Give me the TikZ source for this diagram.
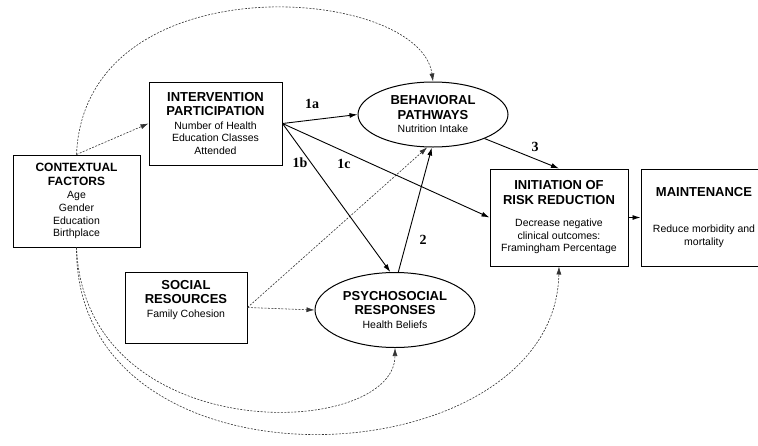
\documentclass[tikz,border=0pt]{standalone}
\usepackage{fontspec}
\setmainfont{Liberation Sans}
\newfontfamily\pathfont{Liberation Serif}
\usetikzlibrary{shapes.geometric,arrows.meta}

\newcommand{\hd}[1]{{\fontsize{13}{15}\selectfont\bfseries #1}}

\begin{document}
\begin{tikzpicture}[x=1pt, y=-1pt,
  >={Latex[length=8pt,width=5pt]},
  box/.style={draw, line width=1pt, align=center, inner sep=0pt, font=\fontsize{10.5}{12.5}\selectfont},
  oval/.style={draw, ellipse, line width=1pt, align=center, inner sep=0pt, font=\fontsize{10.5}{12.5}\selectfont},
  link/.style={->, line width=0.9pt},
  dotlink/.style={->, line width=0.6pt, black!80, dash pattern=on 2pt off 1.4pt},
  tag/.style={font=\pathfont\fontsize{14}{16}\selectfont\bfseries}]

\useasboundingbox (0,0) rectangle (758,445);

\node[box, minimum width=127, minimum height=92, font=\fontsize{10.5}{12.8}\selectfont] (ctx) at (76.5,201) {{\fontsize{12}{14}\selectfont\bfseries CONTEXTUAL}\\[1.5pt]{\fontsize{12}{14}\selectfont\bfseries FACTORS}\\Age\\Gender\\Education\\Birthplace};

\node[box, minimum width=133, minimum height=83] (part) at (215.5,123.5) {\hd{INTERVENTION}\\[2pt]\hd{PARTICIPATION}\\[1pt]Number of Health\\Education Classes\\Attended};

\node[oval, minimum width=150, minimum height=65] (beh) at (433,114.5) {\hd{BEHAVIORAL}\\[2pt]\hd{PATHWAYS}\\[1pt]Nutrition Intake};

\node[oval, minimum width=160, minimum height=75] (psy) at (395,310) {\hd{PSYCHOSOCIAL}\\[2pt]\hd{RESPONSES}\\[1pt]Health Beliefs};

\node[box, minimum width=122, minimum height=71] (soc) at (186,307.5) {};

\node[align=center, inner sep=0pt, font=\fontsize{10.5}{12.5}\selectfont] (soctext) at (186,300) {\hd{SOCIAL}\\[2pt]\hd{RESOURCES}\\[1pt]Family Cohesion};

\node[box, minimum width=138, minimum height=97] (ini) at (559,217.5) {\hd{INITIATION OF}\\[2pt]\hd{RISK REDUCTION}\\[10pt]Decrease negative\\clinical outcomes:\\Framingham Percentage};

\node[box, minimum width=126, minimum height=97] (mnt) at (704,217.5) {\hd{MAINTENANCE}\\[24pt]Reduce morbidity and\\mortality};

\draw[dotlink] (ctx.north) -- (part.west);

\draw[dotlink] (ctx.north) .. controls (85,-40) and (420,-15) .. (beh.north);

\draw[dotlink] (ctx.south) .. controls (85,450) and (395,440) .. (psy.south);

\draw[dotlink] (ctx.south) .. controls (75,505) and (555,480) .. (ini.south);

\draw[dotlink] (soc.east) -- (psy.west);

\draw[dotlink] (soc.east) -- (beh.260);

\draw[link] (part.east) -- (beh.west);

\draw[link] (part.east) -- (psy.97);

\draw[link] (part.east) -- (ini.west);

\draw[link] (psy.85) -- (beh.268);

\draw[link] (beh.335) -- (ini.north);

\draw[link] (ini.east) -- (mnt.west);

\node[tag] (t1a) at (312,104) {1a};

\node[tag] (t1b) at (300,163) {1b};

\node[tag] (t1c) at (344,164) {1c};

\node[tag] (t2) at (423,240) {2};

\node[tag] (t3) at (535,147) {3};

\end{tikzpicture}
\end{document}
